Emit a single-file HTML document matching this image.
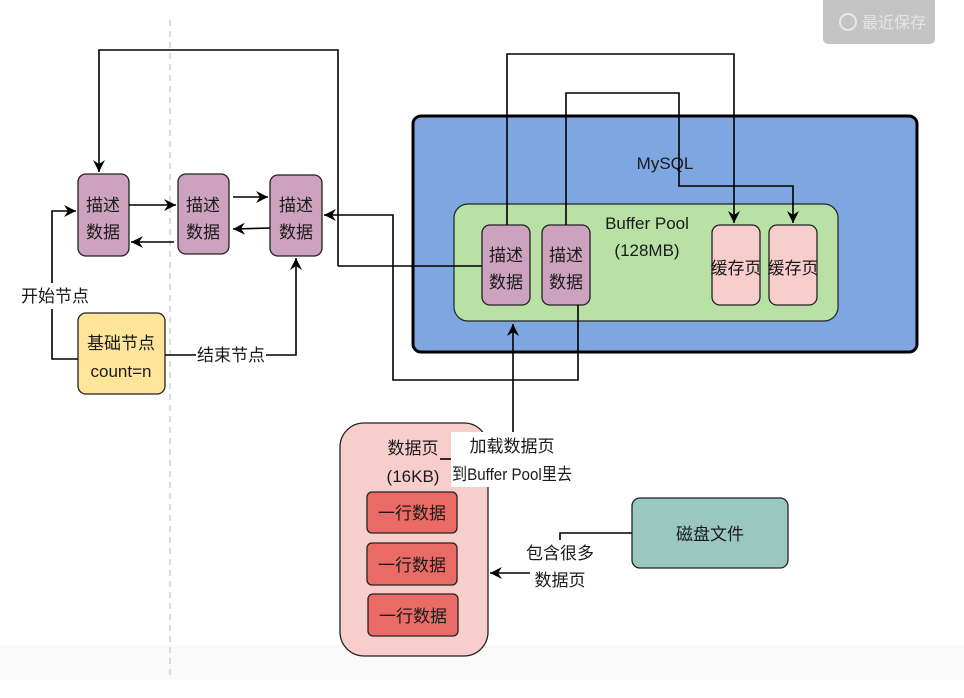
<!DOCTYPE html>
<html><head><meta charset="utf-8">
<style>
html,body{margin:0;padding:0;background:#fff;}
svg{display:block;}
text{font-family:"Liberation Sans","Noto Sans CJK SC",sans-serif;fill:#1a1a1a;}
</style></head>
<body>
<svg width="964" height="698" viewBox="0 0 964 698" xmlns="http://www.w3.org/2000/svg">
<defs>
<marker id="a" markerWidth="14" markerHeight="14" refX="12" refY="6" orient="auto" markerUnits="userSpaceOnUse">
<path d="M0,0 L12,6 L0,12 L4,6 Z" fill="#000"/>
</marker>
</defs>
<rect x="0" y="645" width="964" height="35" fill="#fafafa"/>
<!-- toast -->
<rect x="823" y="-6" width="112" height="50" rx="5" fill="#c4c4c4"/>
<circle cx="848" cy="22" r="8" fill="none" stroke="#e8e8e8" stroke-width="2"/>
<text x="862" y="28" font-size="16" style="fill:#e4e4e4">最近保存</text>
<!-- dashed line -->
<line x1="170" y1="20" x2="170" y2="680" stroke="#bbb" stroke-dasharray="6,5"/>

<!-- MySQL -->
<rect x="413" y="116" width="504" height="236" rx="8" fill="#7ea6e0" stroke="#000" stroke-width="3"/>
<text x="665" y="169" font-size="17" text-anchor="middle">MySQL</text>
<rect x="454" y="204" width="384" height="117" rx="14" fill="#b9e0a5" stroke="#222" stroke-width="1.2"/>
<text x="647" y="229" font-size="17" text-anchor="middle">Buffer Pool</text>
<text x="647" y="256" font-size="17" text-anchor="middle">(128MB)</text>

<g stroke="#222" stroke-width="1.3">
<rect x="482" y="225" width="48" height="80" rx="8" fill="#cda2be"/>
<rect x="542" y="225" width="48" height="80" rx="8" fill="#cda2be"/>
<rect x="712" y="225" width="48" height="80" rx="8" fill="#f8cecc"/>
<rect x="769" y="225" width="48" height="80" rx="8" fill="#f8cecc"/>
<rect x="78" y="174" width="51" height="82" rx="8" fill="#cda2be"/>
<rect x="178" y="174" width="51" height="80" rx="8" fill="#cda2be"/>
<rect x="270" y="175" width="52" height="81" rx="8" fill="#cda2be"/>
<rect x="78" y="313" width="87" height="81" rx="8" fill="#ffe599"/>
<rect x="340" y="423" width="148" height="233" rx="24" fill="#f8cecc"/>
<rect x="367" y="492" width="90" height="41" rx="5" fill="#ea6b66"/>
<rect x="367" y="543" width="90" height="42" rx="5" fill="#ea6b66"/>
<rect x="368" y="594" width="90" height="42" rx="5" fill="#ea6b66"/>
<rect x="632" y="498" width="156" height="70" rx="8" fill="#9ac7bf"/>
</g>

<g font-size="17" text-anchor="middle">
<text x="506" y="261">描述</text><text x="506" y="288">数据</text>
<text x="566" y="261">描述</text><text x="566" y="288">数据</text>
<text x="736" y="274">缓存页</text><text x="793" y="274">缓存页</text>
<text x="103" y="211">描述</text><text x="103" y="238">数据</text>
<text x="203" y="211">描述</text><text x="203" y="238">数据</text>
<text x="296" y="211">描述</text><text x="296" y="238">数据</text>
<text x="121" y="349">基础节点</text><text x="121" y="377">count=n</text>
<text x="413" y="454">数据页</text><text x="413" y="482">(16KB)</text>
<text x="412" y="519">一行数据</text><text x="412" y="571">一行数据</text><text x="413" y="622">一行数据</text>
<text x="710" y="540">磁盘文件</text>
</g>

<g fill="none" stroke="#000" stroke-width="1.6">
<path d="M338,266 L338,50 L99,50 L99,172" marker-end="url(#a)"/>
<path d="M482,266 L338,266"/>
<path d="M129,205 L176,205" marker-end="url(#a)"/>
<path d="M174,242 L131,242" marker-end="url(#a)"/>
<path d="M233,197 L268,197" marker-end="url(#a)"/>
<path d="M270,228 L233,229" marker-end="url(#a)"/>
<path d="M578,305 L578,380 L393,380 L393,215 L324,215" marker-end="url(#a)"/>
<path d="M78,359 L52,359 L52,211 L76,211" marker-end="url(#a)"/>
<path d="M165,355 L296,355 L296,258" marker-end="url(#a)"/>
<path d="M507,225 L507,54 L734,54 L734,223" marker-end="url(#a)"/>
<path d="M566,225 L566,93 L679,93 L679,186 L793,186 L793,223" marker-end="url(#a)"/>
<path d="M513,432 L513,324" marker-end="url(#a)"/>
<path d="M632,533 L560,533 L560,540"/>
<path d="M530,573 L490,573" marker-end="url(#a)"/>
<path d="M440,459 L451,459"/>
</g>

<rect x="20" y="283" width="70" height="26" fill="#fff"/>
<text x="55" y="302" font-size="17" text-anchor="middle">开始节点</text>
<rect x="196" y="342" width="70" height="26" fill="#fff"/>
<text x="231" y="361" font-size="17" text-anchor="middle">结束节点</text>
<rect x="451" y="432" width="122" height="55" fill="#fff"/>
<text x="512" y="452" font-size="17" text-anchor="middle">加载数据页</text>
<text x="512" y="480" font-size="17" text-anchor="middle" textLength="120" lengthAdjust="spacingAndGlyphs">到Buffer Pool里去</text>
<text x="560" y="559" font-size="17" text-anchor="middle">包含很多</text>
<text x="560" y="586" font-size="17" text-anchor="middle">数据页</text>
</svg>
</body></html>
